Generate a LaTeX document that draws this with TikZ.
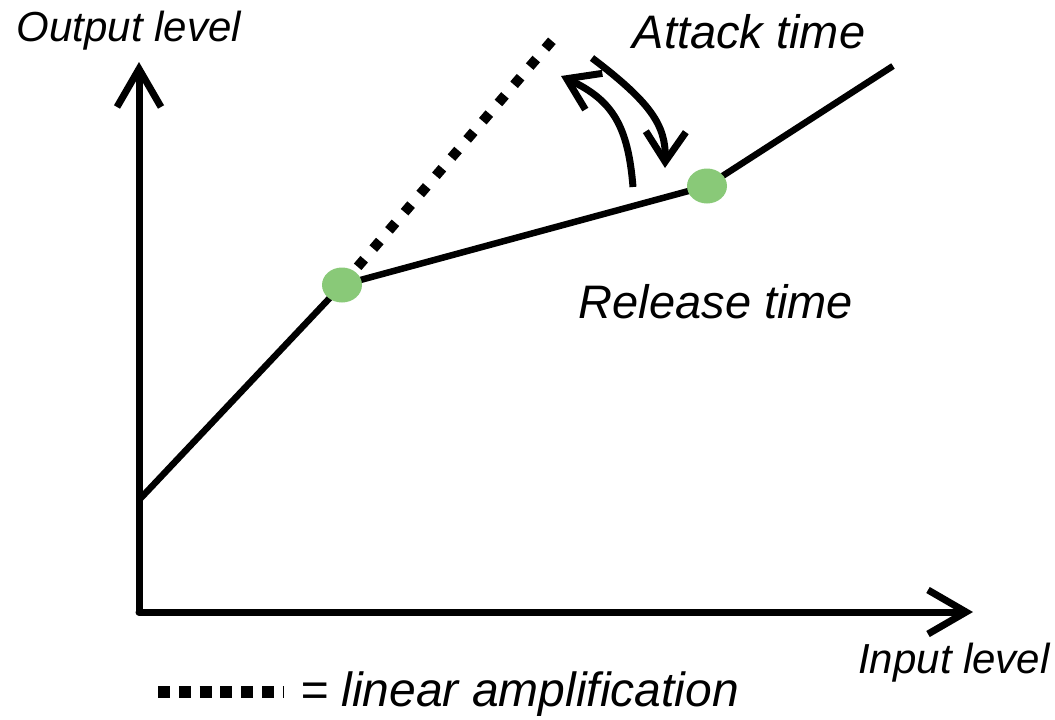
\documentclass[tikz,border=0pt]{standalone}
\usepackage{fontspec}
\setmainfont{Liberation Sans}
\usetikzlibrary{arrows.meta,shapes.geometric}
\definecolor{kneegreen}{RGB}{137,201,120}

\begin{document}
\begin{tikzpicture}[x=1pt,y=-1pt,
axis/.style={%
line width=7pt,
line cap=round,
-{Straight Barb[length=38pt,width=44pt,line width=7pt]}
},
curve/.style={%
line width=6.5pt,
},
lin/.style={%
line width=10pt,
dash pattern=on 10pt off 14pt,
},
swing/.style={%
line width=7pt,
-{Straight Barb[length=30pt,width=40pt,line width=7pt]}
},
knee/.style={%
ellipse,
fill=kneegreen,
minimum width=40pt,
minimum height=35pt,
inner sep=0pt,
},
lbl/.style={%
font=\fontsize{42}{50}\selectfont\itshape,
inner sep=0pt,
},
]
\useasboundingbox (0,0) rectangle (1055,720);
%% Axes
\coordinate (org) at (139,612);
\coordinate (ytip) at (139,62);
\coordinate (xtip) at (973,612);
\draw[axis] (org)--(ytip);
\draw[axis] (org)--(xtip);
\node[lbl](ylbl) at(129,31){Output level};
\node[lbl](xlbl) at(954,663){Input level};
%% Curve
\coordinate (p0) at (139,500);
\coordinate (p1) at (342,285);
\coordinate (p2) at (707,186);
\coordinate (p3) at (893,66);
\coordinate (lin) at (556,36);
\draw[curve] (p0)--(p1)--(p2)--(p3);
\draw[lin] (p1)--(lin);
\node[knee](k1) at(p1){};
\node[knee](k2) at(p2){};
%% Attack / release
\coordinate (r0) at (633,187);
\coordinate (r1) at (561,76);
\coordinate (a0) at (592,58);
\coordinate (a1) at (665,168);
\draw[swing] (r0) .. controls (628,125) and (612,100) .. (r1);
\draw[swing] (a0) .. controls (650,102) and (666,125) .. (a1);
\node[lbl,font=\fontsize{47}{56}\selectfont\itshape](att) at(749,32){Attack time};
\node[lbl,font=\fontsize{47}{56}\selectfont\itshape](rel) at(716,302){Release time};
%% Legend
\coordinate (l0) at (158,692);
\coordinate (l1) at (283,692);
\draw[line width=12pt,dash pattern=on 12pt off 8.8pt] (l0)--(l1);
\node[lbl,font=\fontsize{48}{58}\selectfont\itshape,anchor=west](leg) at(300,694){= linear amplification};
\end{tikzpicture}
\end{document}
